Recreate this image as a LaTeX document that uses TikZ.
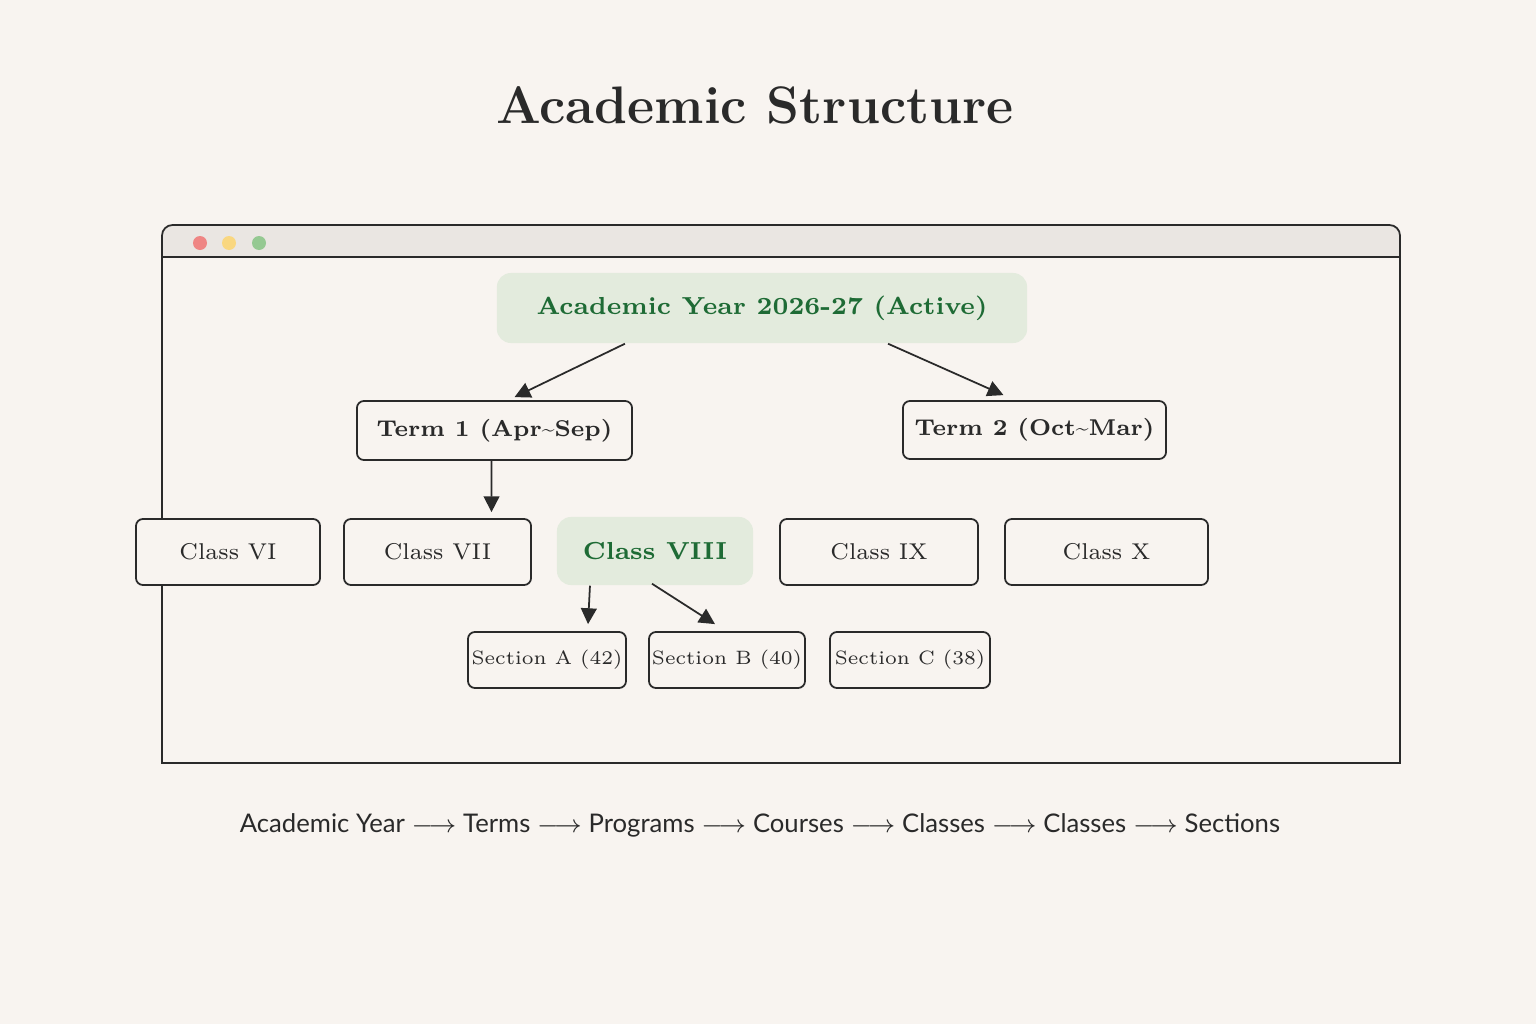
\documentclass[tikz,border=0pt]{standalone}
\usepackage{fontspec}
\newfontfamily\capfont{Lato}
\usetikzlibrary{arrows.meta}
\definecolor{paper}{HTML}{F8F4F0}
\definecolor{barfill}{HTML}{EAE6E2}
\definecolor{leaf}{HTML}{E3EBDD}
\definecolor{leafink}{HTML}{1E6B35}
\definecolor{ink}{HTML}{2A2A2A}
\tikzset{
  box/.style={draw=ink, line width=0.5pt, rounded corners=2pt, fill=paper, text=ink, inner sep=0pt},
  hot/.style={fill=leaf, rounded corners=4pt, text=leafink, inner sep=0pt},
  link/.style={-{Triangle[length=4.5pt,width=4.5pt]}, line width=0.5pt, draw=ink},
}
\begin{document}
\begin{tikzpicture}[x=0.01cm, y=-0.01cm]
\fill[paper] (0,0) rectangle (1536,1024);
\useasboundingbox (0,0) rectangle (1536,1024);

\node[text=ink, font=\fontsize{15}{18}\selectfont\bfseries] (title) at (755,105) {Academic Structure};

% window
\draw[ink, line width=0.5pt, fill=barfill] (162,257) -- (162,235) [rounded corners=3pt] -- (162,225) -- (1400,225) [sharp corners] -- (1400,257) -- cycle;
\draw[ink, line width=0.5pt] (162,257) rectangle (1400,763);
\fill[red!45!paper!90!gray] (200,243) circle (7);
\fill[yellow!45!orange!45!paper] (229,243) circle (7);
\fill[green!35!gray!60!paper] (259,243) circle (7);

% year and terms
\node[hot, minimum width=5.30cm, minimum height=0.70cm, font=\fontsize{7}{9}\selectfont\bfseries] (year) at (762,308) {Academic Year 2026-27 (Active)};
\node[box, minimum width=2.75cm, minimum height=0.59cm, font=\fontsize{6.5}{8}\selectfont\bfseries] (term1) at (494.5,430.5) {Term 1 (Apr\textasciitilde Sep)};
\node[box, minimum width=2.63cm, minimum height=0.58cm, font=\fontsize{6.5}{8}\selectfont\bfseries] (term2) at (1034.5,430) {Term 2 (Oct\textasciitilde Mar)};

% classes
\node[box, minimum width=1.84cm, minimum height=0.66cm, font=\fontsize{6.5}{8}\selectfont] (c6) at (228,552) {Class VI};
\node[box, minimum width=1.87cm, minimum height=0.66cm, font=\fontsize{6.5}{8}\selectfont] (c7) at (437.5,552) {Class VII};
\node[hot, minimum width=1.96cm, minimum height=0.68cm, font=\fontsize{7}{9}\selectfont\bfseries] (c8) at (655,551) {Class VIII};
\node[box, minimum width=1.98cm, minimum height=0.66cm, font=\fontsize{6.5}{8}\selectfont] (c9) at (879,552) {Class IX};
\node[box, minimum width=2.03cm, minimum height=0.66cm, font=\fontsize{6.5}{8}\selectfont] (c10) at (1106.5,552) {Class X};

% sections
\node[box, minimum width=1.58cm, minimum height=0.56cm, font=\fontsize{5.5}{7}\selectfont] (secA) at (547,660) {Section A (42)};
\node[box, minimum width=1.56cm, minimum height=0.56cm, font=\fontsize{5.5}{7}\selectfont] (secB) at (727,660) {Section B (40)};
\node[box, minimum width=1.60cm, minimum height=0.56cm, font=\fontsize{5.5}{7}\selectfont] (secC) at (910,660) {Section C (38)};

% links
\draw[link] ([xshift=-1.37cm]year.south) -- ([xshift=0.20cm,yshift=0.03cm]term1.north);
\draw[link] ([xshift=1.26cm]year.south) -- ([xshift=-0.31cm,yshift=0.05cm]term2.north);
\draw[link] ([xshift=-0.03cm]term1.south) -- ([xshift=0.54cm,yshift=0.06cm]c7.north);
\draw[link] ([xshift=-0.65cm]c8.south) -- ([xshift=0.41cm,yshift=0.07cm]secA.north);
\draw[link] ([xshift=-0.03cm,yshift=0.02cm]c8.south) -- ([xshift=-0.12cm,yshift=0.07cm]secB.north);

\node[text=ink, font=\capfont\fontsize{7.3}{9}\selectfont, anchor=center] (path) at (760,825)
  {Academic Year $\longrightarrow$ Terms $\longrightarrow$ Programs $\longrightarrow$ Courses $\longrightarrow$ Classes $\longrightarrow$ Classes $\longrightarrow$ Sections};
\end{tikzpicture}
\end{document}
